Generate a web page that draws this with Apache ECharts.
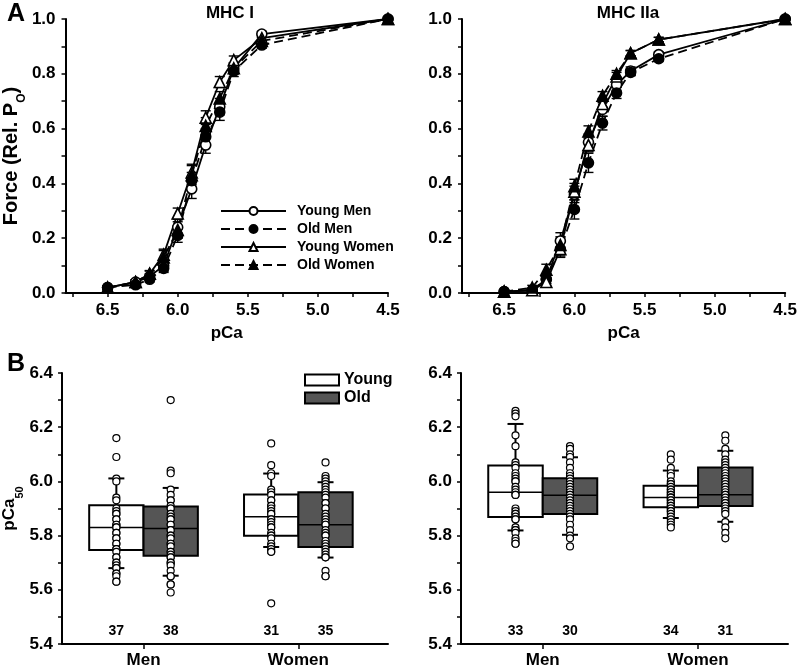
<!DOCTYPE html>
<html><head><meta charset="utf-8">
<script src="https://cdn.jsdelivr.net/npm/echarts@6/dist/echarts.min.js"></script>
<style>html,body{margin:0;padding:0;background:#fff}#c{width:800px;height:669px}</style>
</head><body><div id="c"></div>
<script>
// ---------- DATA ----------
const pCaLevels = [6.5, 6.3, 6.2, 6.1, 6.0, 5.9, 5.8, 5.7, 5.6, 5.4, 4.5];
const seriesNames = ['Young Men', 'Old Men', 'Young Women', 'Old Women'];

// MHC I force (relative Po)
const mhc1YoungMen   = [0.02, 0.04, 0.06, 0.10, 0.24, 0.38, 0.54, 0.68, 0.82, 0.945, 1.0];
const mhc1OldMen     = [0.02, 0.03, 0.05, 0.09, 0.21, 0.41, 0.57, 0.66, 0.81, 0.905, 1.0];
const mhc1YoungWomen = [0.02, 0.04, 0.07, 0.14, 0.29, 0.44, 0.64, 0.77, 0.85, 0.93, 1.0];
const mhc1OldWomen   = [0.02, 0.04, 0.07, 0.13, 0.23, 0.43, 0.61, 0.71, 0.82, 0.92, 1.0];
const mhc1YoungMenSE   = [0.005, 0.008, 0.01, 0.02, 0.03, 0.035, 0.03, 0.03, 0.02, 0.01, 0];
const mhc1OldMenSE     = [0.005, 0.008, 0.01, 0.015, 0.025, 0.03, 0.03, 0.03, 0.02, 0.012, 0];
const mhc1YoungWomenSE = [0.005, 0.008, 0.01, 0.02, 0.02, 0.03, 0.025, 0.02, 0.015, 0.01, 0];
const mhc1OldWomenSE   = [0.005, 0.008, 0.012, 0.025, 0.03, 0.035, 0.03, 0.025, 0.02, 0.012, 0];

// MHC IIa force (relative Po)
const mhc2YoungMen   = [0.005, 0.01, 0.05, 0.19, 0.36, 0.55, 0.67, 0.76, 0.81, 0.87, 1.0];
const mhc2OldMen     = [0.005, 0.01, 0.05, 0.16, 0.305, 0.475, 0.62, 0.73, 0.805, 0.855, 1.0];
const mhc2YoungWomen = [0.005, 0.01, 0.04, 0.16, 0.37, 0.54, 0.69, 0.79, 0.875, 0.925, 1.0];
const mhc2OldWomen   = [0.005, 0.02, 0.085, 0.175, 0.39, 0.59, 0.72, 0.80, 0.875, 0.925, 1.0];
const mhc2YoungMenSE   = [0.003, 0.006, 0.015, 0.03, 0.03, 0.03, 0.025, 0.02, 0.015, 0.01, 0];
const mhc2OldMenSE     = [0.003, 0.006, 0.015, 0.03, 0.035, 0.035, 0.025, 0.02, 0.012, 0.01, 0];
const mhc2YoungWomenSE = [0.003, 0.006, 0.012, 0.025, 0.03, 0.025, 0.02, 0.015, 0.01, 0.008, 0];
const mhc2OldWomenSE   = [0.003, 0.008, 0.02, 0.03, 0.025, 0.02, 0.015, 0.012, 0.01, 0.008, 0];

// pCa50 box data: [whiskerLow, q1, median, q3, whiskerHigh]
const groups = ['Men', 'Women'];
const mhc1BoxYoung = [[5.680, 5.747, 5.830, 5.912, 6.011], [5.758, 5.799, 5.870, 5.952, 6.029]];
const mhc1BoxOld   = [[5.652, 5.726, 5.826, 5.907, 5.976], [5.719, 5.758, 5.840, 5.960, 5.997]];
const mhc2BoxYoung = [[5.819, 5.869, 5.960, 6.059, 6.212], [5.865, 5.905, 5.941, 5.984, 6.040]];
const mhc2BoxOld   = [[5.803, 5.880, 5.949, 6.012, 6.089], [5.851, 5.909, 5.951, 6.051, 6.113]];
const mhc1N = {young: [37, 31], old: [38, 35]};
const mhc2N = {young: [33, 34], old: [30, 31]};

// individual fibre pCa50 values
const mhc1PtsYoungMen = [6.16, 6.09, 6.01, 6.00, 5.94, 5.93, 5.90, 5.89, 5.88, 5.88, 5.86, 5.86, 5.84, 5.84, 5.83, 5.83, 5.81, 5.81, 5.79, 5.79, 5.77, 5.77, 5.75, 5.75, 5.74, 5.72, 5.72, 5.70, 5.70, 5.69, 5.68, 5.68, 5.66, 5.66, 5.65, 5.63, 5.63];
const mhc1PtsOldMen = [6.30, 6.04, 6.03, 5.97, 5.95, 5.93, 5.93, 5.91, 5.90, 5.90, 5.88, 5.87, 5.86, 5.86, 5.84, 5.84, 5.82, 5.82, 5.80, 5.80, 5.79, 5.77, 5.77, 5.76, 5.74, 5.74, 5.73, 5.72, 5.72, 5.70, 5.70, 5.69, 5.67, 5.65, 5.65, 5.62, 5.62, 5.59];
const mhc1PtsYoungWomen = [6.14, 6.06, 6.03, 6.02, 5.97, 5.96, 5.95, 5.93, 5.93, 5.91, 5.91, 5.90, 5.89, 5.88, 5.88, 5.86, 5.86, 5.85, 5.84, 5.83, 5.83, 5.81, 5.80, 5.80, 5.79, 5.77, 5.76, 5.75, 5.74, 5.74, 5.55];
const mhc1PtsOldWomen = [6.07, 6.02, 6.01, 6.00, 5.99, 5.98, 5.97, 5.96, 5.95, 5.94, 5.92, 5.92, 5.90, 5.90, 5.88, 5.87, 5.86, 5.85, 5.84, 5.84, 5.82, 5.81, 5.80, 5.80, 5.78, 5.77, 5.76, 5.75, 5.74, 5.73, 5.72, 5.72, 5.67, 5.65, 5.65];
const mhc2PtsYoungMen = [6.26, 6.25, 6.24, 6.17, 6.13, 6.07, 6.06, 6.05, 6.03, 6.02, 6.01, 6.00, 6.00, 5.98, 5.97, 5.96, 5.95, 5.95, 5.90, 5.89, 5.88, 5.88, 5.87, 5.86, 5.86, 5.83, 5.82, 5.82, 5.81, 5.79, 5.78, 5.77, 5.77];
const mhc2PtsOldMen = [6.13, 6.12, 6.10, 6.09, 6.07, 6.05, 6.03, 6.02, 6.01, 6.00, 5.99, 5.98, 5.97, 5.96, 5.95, 5.95, 5.94, 5.93, 5.92, 5.91, 5.90, 5.89, 5.88, 5.87, 5.86, 5.84, 5.82, 5.80, 5.79, 5.76];
const mhc2PtsYoungWomen = [6.10, 6.08, 6.05, 6.03, 6.02, 6.00, 5.99, 5.99, 5.98, 5.97, 5.97, 5.96, 5.96, 5.95, 5.95, 5.94, 5.94, 5.94, 5.93, 5.93, 5.92, 5.92, 5.91, 5.91, 5.90, 5.90, 5.89, 5.89, 5.88, 5.87, 5.86, 5.85, 5.84, 5.83];
const mhc2PtsOldWomen = [6.17, 6.15, 6.12, 6.10, 6.08, 6.07, 6.06, 6.05, 6.04, 6.03, 6.02, 6.01, 6.00, 5.99, 5.98, 5.97, 5.96, 5.95, 5.95, 5.94, 5.93, 5.92, 5.92, 5.91, 5.90, 5.89, 5.88, 5.85, 5.83, 5.81, 5.79];

const forceTicks = [0, 0.1, 0.2, 0.3, 0.4, 0.5, 0.6, 0.7, 0.8, 0.9, 1.0];
const forceLabels = [0, 0.2, 0.4, 0.6, 0.8, 1.0];
const pCaTicks = [6.75, 6.5, 6.25, 6.0, 5.75, 5.5, 5.25, 5.0, 4.75, 4.5];
const pCaLabels = [6.5, 6.0, 5.5, 5.0, 4.5];
const p50Ticks = [5.4, 5.5, 5.6, 5.7, 5.8, 5.9, 6.0, 6.1, 6.2, 6.3, 6.4];
const p50Labels = [5.4, 5.6, 5.8, 6.0, 6.2, 6.4];

// ---------- LAYOUT / STYLE ----------
const FONT = '"Liberation Sans", Arial, Helvetica, sans-serif';
const GROUP_X = [1.5, 4.35];
const BOX_W = 1;
const axisLineStyle = {color: '#000', width: 2};
const labelStyle = {color: '#000', fontSize: 17, fontWeight: 'bold', fontFamily: FONT};

const chart = echarts.init(document.getElementById('c'), null, {renderer: 'canvas'});

function topX(idx) {
  return {
    type: 'value', gridIndex: idx, inverse: true, min: 4.5, max: 6.8,
    name: 'pCa', nameLocation: 'middle', nameGap: 32,
    nameTextStyle: labelStyle,
    axisLine: {show: true, lineStyle: axisLineStyle},
    axisTick: {show: true, inside: false, length: 4, lineStyle: {color: '#000', width: 1.5}, customValues: pCaTicks},
    axisLabel: Object.assign({margin: 9, customValues: pCaLabels, formatter: v => v.toFixed(1)}, labelStyle),
    splitLine: {show: false}
  };
}
function topY(idx, withName) {
  return {
    type: 'value', gridIndex: idx, min: 0, max: 1,
    name: withName ? '{a|Force (Rel. P}{s|O}{a|)}' : '',
    nameLocation: 'middle', nameGap: 36,
    nameTextStyle: {rich: {
      a: {fontSize: 20, fontWeight: 'bold', fontFamily: FONT, color: '#000', lineHeight: 22},
      s: {fontSize: 12, fontWeight: 'bold', fontFamily: FONT, color: '#000', lineHeight: 22, verticalAlign: 'bottom', padding: [0, 0, -6, 0]}
    }},
    axisLine: {show: true, lineStyle: axisLineStyle},
    axisTick: {show: true, inside: false, length: 4, lineStyle: {color: '#000', width: 1.5}, customValues: forceTicks},
    axisLabel: Object.assign({margin: 10, customValues: forceLabels, formatter: v => v.toFixed(1)}, labelStyle),
    splitLine: {show: false}
  };
}
function botX(idx) {
  return {
    type: 'value', gridIndex: idx, min: 0, max: 6,
    axisLine: {show: true, lineStyle: axisLineStyle},
    axisTick: {show: true, inside: false, length: 5, lineStyle: {color: '#000', width: 1.5}, customValues: GROUP_X},
    axisLabel: Object.assign({margin: 8, customValues: GROUP_X, formatter: v => groups[GROUP_X.indexOf(v)] || ''}, labelStyle),
    splitLine: {show: false}
  };
}
function botY(idx, withName) {
  return {
    type: 'value', gridIndex: idx, min: 5.4, max: 6.4,
    name: withName ? '{a|pCa}{s|50}' : '',
    nameLocation: 'middle', nameGap: 36,
    nameTextStyle: {rich: {
      a: {fontSize: 17, fontWeight: 'bold', fontFamily: FONT, color: '#000', lineHeight: 20},
      s: {fontSize: 11, fontWeight: 'bold', fontFamily: FONT, color: '#000', lineHeight: 20, verticalAlign: 'bottom', padding: [0, 0, -6, 0]}
    }},
    axisLine: {show: true, lineStyle: axisLineStyle},
    axisTick: {show: true, inside: false, length: 4, lineStyle: {color: '#000', width: 1.5}, customValues: p50Ticks},
    axisLabel: Object.assign({margin: 9, customValues: p50Labels, formatter: v => v.toFixed(1)}, labelStyle),
    splitLine: {show: false}
  };
}

const lineDefs = [
  {name: seriesNames[0], symbol: 'circle', fill: '#fff', dash: 'solid', size: 10},
  {name: seriesNames[1], symbol: 'circle', fill: '#000', dash: [9, 5], size: 10},
  {name: seriesNames[2], symbol: 'triangle', fill: '#fff', dash: 'solid', size: 11},
  {name: seriesNames[3], symbol: 'triangle', fill: '#000', dash: [9, 5], size: 11}
];

function errSeries(idx, ys, es) {
  return {
    type: 'custom', xAxisIndex: idx, yAxisIndex: idx, silent: true, z: 1,
    data: pCaLevels.map((x, i) => [x, ys[i] - es[i], ys[i] + es[i]]),
    renderItem: function (params, api) {
      const x = api.value(0);
      const lo = api.coord([x, api.value(1)]);
      const hi = api.coord([x, api.value(2)]);
      const hw = 5;
      const st = {stroke: '#000', lineWidth: 1.4};
      return {type: 'group', children: [
        {type: 'line', shape: {x1: lo[0], y1: lo[1], x2: hi[0], y2: hi[1]}, style: st},
        {type: 'line', shape: {x1: lo[0] - hw, y1: lo[1], x2: lo[0] + hw, y2: lo[1]}, style: st},
        {type: 'line', shape: {x1: hi[0] - hw, y1: hi[1], x2: hi[0] + hw, y2: hi[1]}, style: st}
      ]};
    }
  };
}
function lineSeries(idx, def, ys) {
  return {
    type: 'line', name: def.name, xAxisIndex: idx, yAxisIndex: idx, z: 3,
    data: pCaLevels.map((x, i) => [x, ys[i]]),
    symbol: def.symbol, symbolSize: def.size, showAllSymbol: true,
    lineStyle: {color: '#000', width: 1.8, type: def.dash},
    itemStyle: {color: def.fill, borderColor: '#000', borderWidth: 1.6},
    emphasis: {disabled: true}, animation: false
  };
}

function boxSeries(idx, name, stats, ns, side, fill) {
  return {
    type: 'custom', name: name, xAxisIndex: idx, yAxisIndex: idx, z: 2,
    itemStyle: {color: fill, borderColor: '#000'},
    data: stats.map((s, i) => [GROUP_X[i], s[0], s[1], s[2], s[3], s[4], ns[i]]),
    renderItem: function (params, api) {
      const gx = api.value(0);
      const x0 = side < 0 ? gx - BOX_W : gx;
      const x1 = side < 0 ? gx : gx + BOX_W;
      const xc = (x0 + x1) / 2;
      const pTL = api.coord([x0, api.value(4)]);
      const pBR = api.coord([x1, api.value(2)]);
      const med = api.coord([x0, api.value(3)]);
      const wl = api.coord([xc, api.value(1)]);
      const q1 = api.coord([xc, api.value(2)]);
      const q3 = api.coord([xc, api.value(4)]);
      const wh = api.coord([xc, api.value(5)]);
      const base = api.coord([xc, 5.4]);
      const capHW = 8;
      const ls = {stroke: '#000', lineWidth: 2};
      return {type: 'group', children: [
        {type: 'rect', shape: {x: pTL[0], y: pTL[1], width: pBR[0] - pTL[0], height: pBR[1] - pTL[1]},
          style: {fill: fill, stroke: '#000', lineWidth: 2}},
        {type: 'line', shape: {x1: pTL[0], y1: med[1], x2: pBR[0], y2: med[1]}, style: {stroke: '#000', lineWidth: 1.5}},
        {type: 'line', shape: {x1: wl[0], y1: wl[1], x2: q1[0], y2: q1[1]}, style: ls},
        {type: 'line', shape: {x1: q3[0], y1: q3[1], x2: wh[0], y2: wh[1]}, style: ls},
        {type: 'line', shape: {x1: wl[0] - capHW, y1: wl[1], x2: wl[0] + capHW, y2: wl[1]}, style: ls},
        {type: 'line', shape: {x1: wh[0] - capHW, y1: wh[1], x2: wh[0] + capHW, y2: wh[1]}, style: ls},
        {type: 'text', x: base[0], y: base[1] - 6, style: {text: String(api.value(6)), fill: '#000',
          font: 'bold 14px ' + FONT, align: 'center', verticalAlign: 'bottom'}}
      ]};
    }
  };
}
function ptsSeries(idx, gi, side, vals) {
  const x = GROUP_X[gi] + side * BOX_W / 2;
  return {
    type: 'scatter', xAxisIndex: idx, yAxisIndex: idx, z: 4, silent: true,
    data: vals.map(v => [x, v]),
    symbol: 'circle', symbolSize: 7,
    itemStyle: {color: '#fff', borderColor: '#000', borderWidth: 1.2, opacity: 1},
    animation: false
  };
}

const series = [];
[[mhc1YoungMen, mhc1OldMen, mhc1YoungWomen, mhc1OldWomen], [mhc2YoungMen, mhc2OldMen, mhc2YoungWomen, mhc2OldWomen]].forEach((set, p) => {
  const ses = p === 0 ? [mhc1YoungMenSE, mhc1OldMenSE, mhc1YoungWomenSE, mhc1OldWomenSE]
                      : [mhc2YoungMenSE, mhc2OldMenSE, mhc2YoungWomenSE, mhc2OldWomenSE];
  set.forEach((ys, k) => series.push(errSeries(p, ys, ses[k])));
  set.forEach((ys, k) => series.push(lineSeries(p, lineDefs[k], ys)));
});
series.push(boxSeries(2, 'Young', mhc1BoxYoung, mhc1N.young, -1, '#ffffff'));
series.push(boxSeries(2, 'Old', mhc1BoxOld, mhc1N.old, 1, '#555555'));
series.push(boxSeries(3, 'Young', mhc2BoxYoung, mhc2N.young, -1, '#ffffff'));
series.push(boxSeries(3, 'Old', mhc2BoxOld, mhc2N.old, 1, '#555555'));
series.push(ptsSeries(2, 0, -1, mhc1PtsYoungMen));
series.push(ptsSeries(2, 0, 1, mhc1PtsOldMen));
series.push(ptsSeries(2, 1, -1, mhc1PtsYoungWomen));
series.push(ptsSeries(2, 1, 1, mhc1PtsOldWomen));
series.push(ptsSeries(3, 0, -1, mhc2PtsYoungMen));
series.push(ptsSeries(3, 0, 1, mhc2PtsOldMen));
series.push(ptsSeries(3, 1, -1, mhc2PtsYoungWomen));
series.push(ptsSeries(3, 1, 1, mhc2PtsOldWomen));

chart.setOption({
  animation: false,
  backgroundColor: '#fff',
  textStyle: {fontFamily: FONT},
  title: [
    {text: 'MHC I', left: 225, top: 0, textAlign: 'center', textStyle: {fontSize: 17, fontWeight: 'bold', fontFamily: FONT, color: '#000'}},
    {text: 'MHC IIa', left: 623, top: 0, textAlign: 'center', textStyle: {fontSize: 17, fontWeight: 'bold', fontFamily: FONT, color: '#000'}},
    {text: 'A', left: 2, top: -3, textStyle: {fontSize: 25, fontWeight: 'bold', fontFamily: FONT, color: '#000'}},
    {text: 'B', left: 2, top: 347, textStyle: {fontSize: 25, fontWeight: 'bold', fontFamily: FONT, color: '#000'}}
  ],
  grid: [
    {left: 62, top: 19, width: 326, height: 274},
    {left: 462, top: 19, width: 326, height: 274},
    {left: 61, top: 373, width: 327, height: 273},
    {left: 461, top: 373, width: 327, height: 273}
  ],
  xAxis: [topX(0), topX(1), botX(2), botX(3)],
  yAxis: [topY(0, true), topY(1, false), botY(2, true), botY(3, false)],
  legend: [
    {data: seriesNames, orient: 'vertical', left: 215, top: 199, itemWidth: 65, itemHeight: 10, itemGap: 4,
      selectedMode: false, textStyle: {fontSize: 14, fontWeight: 'bold', fontFamily: FONT, color: '#000', padding: [0, 0, 0, 6]}},
    {data: [{name: 'Young', icon: 'rect', itemStyle: {color: '#fff', borderColor: '#000', borderWidth: 2}},
            {name: 'Old', icon: 'rect', itemStyle: {color: '#555555', borderColor: '#000', borderWidth: 2}}],
      orient: 'vertical', left: 299, top: 367, itemWidth: 34, itemHeight: 11, itemGap: 2, selectedMode: false,
      textStyle: {fontSize: 16, fontWeight: 'bold', fontFamily: FONT, color: '#000'}}
  ],
  series: series
});
</script>
</body></html>
